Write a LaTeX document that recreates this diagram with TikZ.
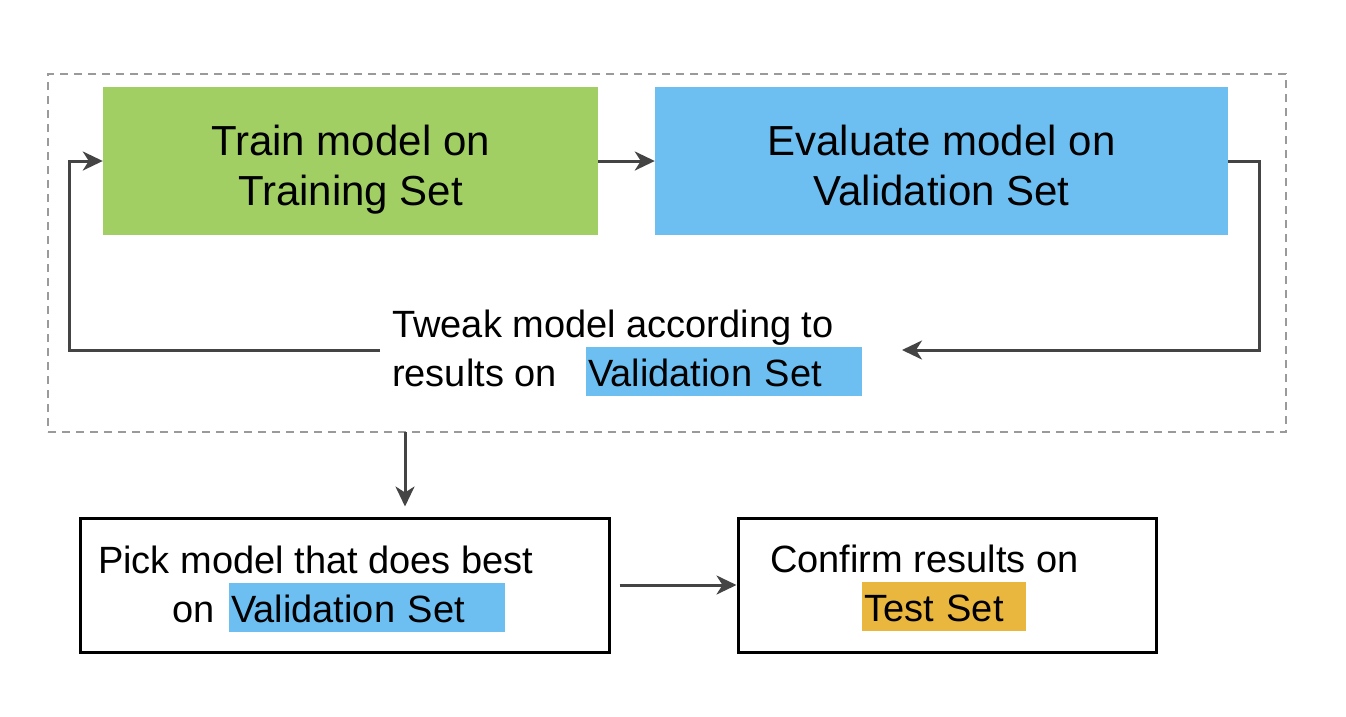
\documentclass[tikz,border=0pt]{standalone}
\usepackage{fontspec}
\setmainfont{Liberation Sans}
\usetikzlibrary{arrows.meta}
\definecolor{traingreen}{HTML}{A2CF63}
\definecolor{valblue}{HTML}{6EBFF1}
\definecolor{testgold}{HTML}{E9B73E}
\definecolor{wire}{HTML}{444444}
\definecolor{dashgray}{HTML}{9A9A9A}

\begin{document}
\begin{tikzpicture}[x=1pt,y=-1pt]
\tikzstyle{every node}+=[inner sep=0pt]
\tikzstyle{bigbox}=[rectangle, minimum height=148pt]
\tikzstyle{bigtxt}=[anchor=north, align=center, font=\fontsize{42}{50}\selectfont]
\tikzstyle{stepbox}=[rectangle, draw=black, line width=3pt, minimum height=134pt]
\tikzstyle{txt}=[anchor=base west, font=\fontsize{38}{49}\selectfont]
\tikzstyle{hl}=[txt, align=left, inner xsep=2pt, text height=39pt, text depth=10pt]
\tikzstyle{arr}=[draw=wire, line width=3pt, -{Stealth[length=20pt,width=19pt,inset=6pt]}]
\useasboundingbox (0,0) rectangle (1346,716);
% loop region
\node [draw=dashgray, line width=2pt, dash pattern=on 8pt off 6pt, minimum width=1238pt, minimum height=358pt] (loop) at (667,253) {};
\node [bigbox, fill=traingreen, minimum width=495pt] (train) at (350.5,161) {};
\node [bigtxt] (trainlbl) at ([yshift=-38pt]train.north) {Train model on\\Training Set};
\node [bigbox, fill=valblue, minimum width=573pt] (eval) at (941.5,161) {};
\node [bigtxt] (evallbl) at ([yshift=-38pt]eval.north) {Evaluate model on\\Validation Set};
\node [txt] (tweak1) at (392,337) {Tweak model according to};
\node [txt] (tweak2) at (392,386) {results on};
\node [hl, fill=valblue, text width=272pt] (tweakval) at (586,386) {Validation Set};
\coordinate (backin) at (902,350);
\coordinate (backout) at (380,350);
\draw [arr] (train.east) -- (eval.west);
\draw [arr] (eval.east) -- ++(31,0) |- (backin);
\draw [arr] (backout) -| ([xshift=-33pt]train.west) -- (train.west);
% final steps
\node [stepbox, minimum width=529pt] (pick) at (344.5,585) {};
\node [txt] (pick1) at (98,573) {Pick model that does best};
\node [txt] (pick2) at (172,622) {on};
\node [hl, fill=valblue, text width=272pt] (pickval) at (229,622) {Validation Set};
\node [stepbox, minimum width=418pt] (confirm) at (947,585) {};
\node [txt] (confirm1) at (770,572) {Confirm results on};
\node [hl, fill=testgold, text width=160pt] (testval) at (862,621) {Test Set};
\coordinate (drop) at (405,432);
\draw [arr, shorten >=10pt] (drop) -- (drop |- pick.north);
\draw [arr, shorten <=9pt] (pick.east) -- (confirm.west);
\end{tikzpicture}
\end{document}
